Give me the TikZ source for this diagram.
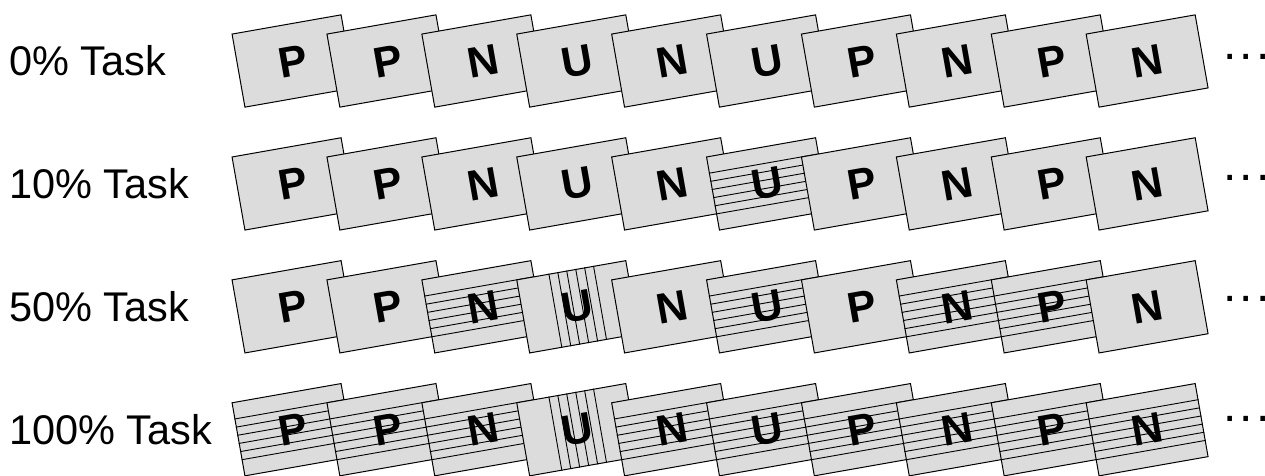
\documentclass[tikz,border=0pt]{standalone}
\usepackage{fontspec}
\setmainfont{Liberation Sans}
\usetikzlibrary{calc}
\definecolor{cardgray}{RGB}{220,220,220}
\tikzset{
  card/.style={draw=black, line width=1pt, fill=cardgray, rectangle,
    minimum width=110.7pt, minimum height=74.2pt, inner sep=0pt,
    rotate=10, font=\fontsize{43}{43}\selectfont\bfseries},
  hatch/.style={draw=black, line width=0.9pt},
  rowlabel/.style={anchor=west, inner sep=0pt, font=\fontsize{41.5}{41.5}\selectfont},
  dotsnode/.style={anchor=base west, inner sep=0pt, font=\fontsize{48}{48}\selectfont}
}
\newcommand\hatcho[1]{}
\newcommand\hatchh[1]{\foreach \f in {0.225,0.335,0.445,0.555,0.665,0.775}{\draw[hatch] ($(#1.north west)!\f!(#1.south west)$) -- ($(#1.north east)!\f!(#1.south east)$);}}
\newcommand\hatchv[1]{\foreach \f in {0.297,0.378,0.459,0.541,0.622,0.703}{\draw[hatch] ($(#1.north west)!\f!(#1.north east)$) -- ($(#1.south west)!\f!(#1.south east)$);}}
\begin{document}
\begin{tikzpicture}[x=1pt,y=-1pt]
\useasboundingbox (0,0) rectangle (1265,476);
\foreach \r/\lab/\cards in {
  0/{0\% Task}/{P/o,P/o,N/o,U/o,N/o,U/o,P/o,N/o,P/o,N/o},
  1/{10\% Task}/{P/o,P/o,N/o,U/o,N/o,U/h,P/o,N/o,P/o,N/o},
  2/{50\% Task}/{P/o,P/o,N/h,U/v,N/o,U/h,P/o,N/h,P/h,N/o},
  3/{100\% Task}/{P/h,P/h,N/h,U/v,N/h,U/h,P/h,N/h,P/h,N/h}}{
  \node[rowlabel] (lab\r) at (9,{61+122.9*\r}) {\lab};
  \foreach \l/\h [count=\k from 0] in \cards {
    \node[card] (c\r-\k) at ({293+94.9*\k},{61+122.9*\r}) {\l};
    \csname hatch\h\endcsname{c\r-\k}
  }
  \node[dotsnode] (dots\r) at (1223,{60+120.5*\r}) {.\kern3.2pt.\kern3.2pt.};
}
\end{tikzpicture}
\end{document}
